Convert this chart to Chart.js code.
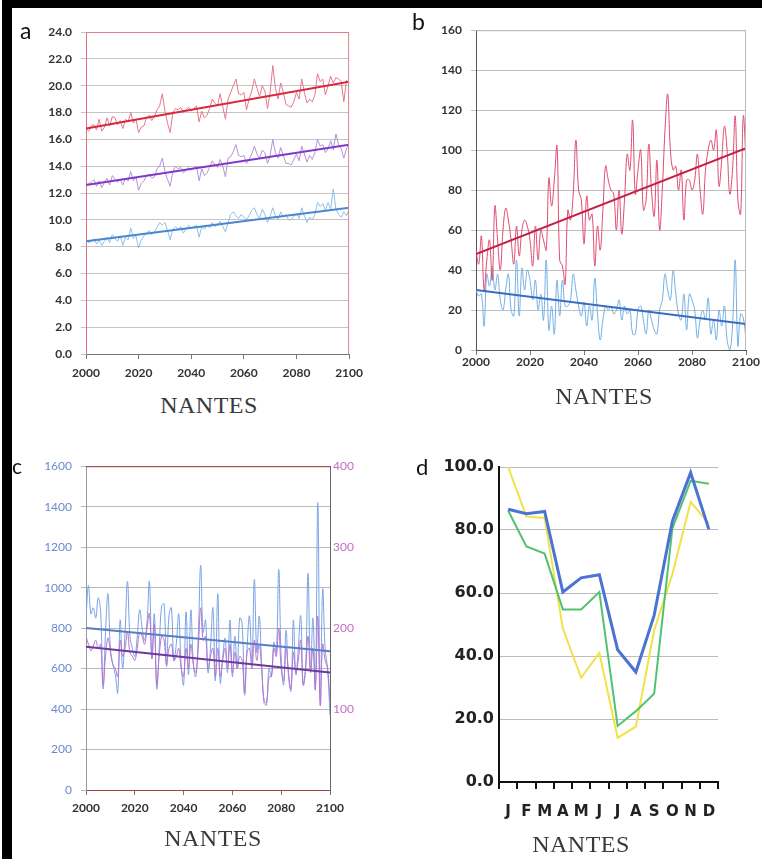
<!DOCTYPE html>
<html>
<head>
<meta charset="utf-8">
<script src="https://cdn.jsdelivr.net/npm/chart.js@4.4.1/dist/chart.umd.min.js"></script>
<style>
  body { margin: 0; background: #fff; width: 762px; height: 859px; position: relative; overflow: hidden; }
  canvas { position: absolute; }
  .bar { position: absolute; background: #000; }
  .letter { position: absolute; font-family: "Lato", sans-serif; color: #111; line-height: 1; }
  .city { position: absolute; width: 200px; text-align: center; font-family: "Liberation Serif", serif;
          font-size: 24px; line-height: 24px; color: #3a3a3a; letter-spacing: 0.5px; }
</style>
</head>
<body>
<div class="bar" style="left:2px;top:0;width:10px;height:859px"></div>
<div class="bar" style="left:2px;top:0;width:760px;height:8px"></div>

<canvas id="chartA" width="350" height="376" style="left:20px;top:14px"></canvas>
<canvas id="chartB" width="352" height="376" style="left:410px;top:14px"></canvas>
<canvas id="chartC" width="350" height="376" style="left:20px;top:450px"></canvas>
<canvas id="chartD" width="350" height="376" style="left:400px;top:450px"></canvas>

<div class="letter" style="left:20px;top:19px;font-size:23px">a</div>
<div class="letter" style="left:412px;top:10px;font-size:23px">b</div>
<div class="letter" style="left:12px;top:455px;font-size:21px">c</div>
<div class="letter" style="left:416px;top:456px;font-size:22px">d</div>

<div class="city" style="left:109px;top:393px">NANTES</div>
<div class="city" style="left:504px;top:384px">NANTES</div>
<div class="city" style="left:113px;top:826px">NANTES</div>
<div class="city" style="left:481px;top:832px">NANTES</div>

<script>
// years on the x axis of panels a, b, c
var years = [];
for (var yr = 2000; yr <= 2100; yr++) years.push(yr);

// a : temperatures (max, mean, min) and their trends
var tempMax = [
  16.8, 16.6, 17.0, 17.1, 16.7, 17.5, 16.6, 16.9, 17.6, 17.0,
  17.7, 17.6, 17.1, 17.4, 16.8, 17.5, 17.3, 18.0, 17.2, 17.5,
  16.5, 16.9, 17.0, 17.6, 17.8, 17.4, 17.7, 18.2, 18.5, 19.4,
  18.1, 17.2, 16.5, 18.0, 18.3, 18.2, 18.4, 18.0, 18.2, 18.4,
  18.1, 18.3, 18.5, 17.3, 18.1, 17.6, 17.8, 18.3, 19.0, 18.7,
  18.5, 19.4, 18.4, 17.5, 19.0, 19.5, 20.0, 20.5, 19.4, 19.3,
  19.5, 18.2, 19.0, 19.6, 20.5, 19.8, 19.2, 20.0, 19.6, 18.3,
  19.5, 21.5, 19.8, 19.0, 20.2, 19.5, 18.6, 18.5, 18.4, 18.8,
  19.5, 19.0, 20.5, 19.5, 18.7, 19.0, 18.8, 19.3, 20.9, 20.3,
  20.5, 19.3, 20.0, 20.7, 20.2, 20.6, 20.5, 20.3, 18.8, 20.4,
  20.2
];
var tempMean = [
  12.6, 12.7, 12.8, 13.0, 12.5, 12.9, 12.4, 12.8, 13.1, 12.6,
  13.3, 13.0, 12.8, 13.0, 12.6, 13.1, 12.9, 13.6, 12.9, 13.2,
  12.2, 12.7, 12.9, 13.3, 13.4, 13.1, 13.2, 13.8, 14.0, 14.6,
  13.6, 13.0, 12.5, 13.6, 14.0, 13.8, 13.9, 13.5, 13.7, 13.9,
  13.7, 13.9, 14.0, 12.9, 13.8, 13.3, 13.5, 13.9, 14.4, 14.1,
  13.9, 14.5, 14.0, 13.2, 14.6, 14.7, 15.1, 15.6, 14.8, 14.7,
  14.8, 14.2, 14.5, 14.9, 15.5, 14.9, 14.6, 15.2, 15.0, 14.2,
  14.8, 16.0, 15.0, 14.6, 15.4, 14.8, 14.2, 14.2, 14.1, 14.5,
  14.9, 14.4, 15.5, 14.9, 14.3, 14.8, 14.5, 15.0, 16.0, 15.5,
  15.6, 15.0, 15.3, 15.9, 15.2, 16.4, 15.6, 15.3, 14.6, 15.3,
  15.6
];
var tempMin = [
  8.5, 8.3, 8.4, 8.6, 8.2, 8.5, 8.1, 8.4, 8.7, 8.3,
  8.9, 8.6, 8.4, 8.8, 8.1, 8.7, 8.5, 9.4, 8.6, 8.8,
  7.9, 8.5, 8.8, 9.0, 9.2, 8.9, 9.1, 9.4, 9.8, 9.6,
  9.8, 9.2, 8.5, 9.3, 9.5, 9.3, 9.5, 9.0, 9.3, 9.6,
  9.4, 9.5, 9.6, 8.7, 9.5, 9.3, 9.6, 9.4, 9.8, 9.5,
  9.6, 9.9, 9.5, 9.1, 9.8, 10.4, 10.6, 10.3, 10.1, 10.4,
  10.2, 10.0, 10.3, 10.7, 10.9, 10.4, 10.1, 10.8, 10.4, 9.8,
  10.3, 10.9, 10.3, 10.0, 10.6, 10.2, 10.4, 10.0, 10.0, 10.3,
  10.5, 10.1, 10.9, 10.3, 9.8, 10.2, 10.0, 10.4, 11.3, 11.0,
  11.2, 10.7, 11.3, 10.8, 12.3, 10.8, 10.4, 10.2, 10.6, 10.3,
  10.8
];
var trendMax = [16.8, 20.3];
var trendMean = [12.6, 15.6];
var trendMin = [8.4, 10.9];

// b : day counts, warm (red) and cold (blue)
var daysWarm = [
  50, 43, 57, 30, 45, 55, 35, 72, 55, 40,
  60, 71, 65, 55, 43, 62, 47, 60, 65, 62,
  55, 42, 62, 45, 60, 55, 50, 86, 72, 85,
  102, 45, 42, 33, 70, 65, 78, 105, 80, 75,
  53, 77, 65, 68, 42, 62, 50, 70, 92, 85,
  80, 78, 60, 80, 58, 75, 98, 90, 115, 78,
  90, 100, 70, 75, 103, 80, 67, 95, 60, 80,
  110, 128, 100, 90, 92, 80, 90, 65, 85, 85,
  80, 85, 98, 80, 68, 90, 100, 105, 100, 110,
  82, 95, 112, 100, 78, 90, 117, 75, 68, 117,
  95
];
var daysCold = [
  30, 27, 28, 12, 38, 32, 42, 30, 38, 25,
  20, 30, 38, 20, 17, 45, 17, 41, 30, 40,
  35, 25, 35, 20, 28, 15, 45, 10, 22, 8,
  35, 17, 35, 22, 22, 25, 38, 30, 22, 17,
  24, 12, 22, 15, 36, 18, 5, 15, 22, 20,
  22, 18, 20, 25, 15, 22, 18, 20, 8, 8,
  20, 22, 15, 8, 20, 15, 10, 8, 20, 25,
  38, 30, 25, 40, 28, 18, 15, 28, 10, 28,
  25, 20, 6, 15, 20, 15, 26, 8, 15, 5,
  20, 12, 22, 5, 0, 12, 45, 2, 18, 16,
  5
];
var trendWarm = [48, 101];
var trendCold = [30, 13];

// c : rainfall (left axis, blue) and second index (right axis, purple)
var rainTotal = [
  850, 1010, 870, 900, 850, 950, 880, 500, 780, 970,
  700, 620, 570, 480, 840, 600, 780, 1030, 760, 700,
  660, 760, 890, 800, 740, 830, 1030, 650, 870, 500,
  700, 910, 920, 610, 860, 900, 640, 720, 870, 620,
  520, 880, 570, 890, 620, 560, 760, 1110, 780, 840,
  580, 700, 900, 540, 970, 530, 650, 750, 580, 840,
  560, 760, 600, 850, 820, 470, 700, 860, 620, 1040,
  680, 860, 620, 430, 420, 600, 560, 730, 680, 1090,
  650, 520, 790, 560, 490, 840, 570, 700, 860, 520,
  600, 1070, 590, 850, 500, 1420, 420, 990, 700, 600,
  370
];
var rainIndex = [
  190, 180, 172, 178, 185, 175, 180, 130, 165, 188,
  170, 155, 150, 140, 185, 165, 175, 195, 170, 165,
  160, 175, 195, 190, 180, 200, 218, 162, 205, 130,
  165, 190, 185, 155, 175, 180, 160, 165, 175, 150,
  140, 175, 150, 180, 155, 145, 175, 225, 185, 190,
  150, 165, 175, 140, 175, 140, 160, 175, 150, 180,
  145, 170, 150, 165, 160, 120, 170, 175, 150, 185,
  160, 180, 150, 110, 108, 140, 140, 175, 165, 200,
  150, 135, 175, 145, 125, 170, 145, 160, 185, 130,
  150, 190, 145, 175, 125, 215, 105, 180, 160, 150,
  110
];
var trendRain = [800, 685];
var trendIndex = [177, 145];

// d : monthly values, three periods
var months = ["J", "F", "M", "A", "M", "J", "J", "A", "S", "O", "N", "D"];
var monthBlue = [86.6, 85.2, 85.9, 60.3, 64.8, 65.8, 42.0, 34.9, 52.9, 82.8, 98.2, 80.2];
var monthGreen = [86.2, 74.8, 72.5, 54.8, 54.8, 60.3, 17.8, 22.5, 28.0, 80.5, 95.6, 94.7];
var monthYellow = [100.0, 84.3, 83.8, 48.7, 33.1, 41.0, 14.0, 17.6, 48.1, 66.0, 88.9, 82.0];

function series(values) {
    return values.map(function(v, i) { return {x: years[i], y: v}; });
}
function trend(ends) {
    return [{x: 2000, y: ends[0]}, {x: 2100, y: ends[1]}];
}
function noisy(values, color, smooth, axis) {
    var ds = {data: series(values), borderColor: color, borderWidth: 1, pointRadius: 0, tension: smooth ? 0.4 : 0};
    if (axis) ds.yAxisID = axis;
    return ds;
}
function straight(ends, color, axis) {
    var ds = {data: trend(ends), borderColor: color, borderWidth: 2, pointRadius: 0};
    if (axis) ds.yAxisID = axis;
    return ds;
}

// thin frame around the plot area, one colour per side
var framePlugin = {
    id: "frame",
    afterDraw: function(chart, args, opts) {
        var a = chart.chartArea, ctx = chart.ctx;
        ctx.save();
        ctx.lineWidth = 1;
        function side(color, x1, y1, x2, y2) {
            if (!color) return;
            ctx.strokeStyle = color;
            ctx.beginPath(); ctx.moveTo(x1, y1); ctx.lineTo(x2, y2); ctx.stroke();
        }
        side(opts.top, a.left, a.top + 0.5, a.right, a.top + 0.5);
        side(opts.right, a.right - 0.5, a.top, a.right - 0.5, a.bottom);
        ctx.restore();
    }
};

Chart.defaults.font.family = "Lato, 'Open Sans', sans-serif";
Chart.defaults.color = "#333";
Chart.defaults.animation = false;
Chart.defaults.plugins.legend.display = false;
Chart.defaults.plugins.tooltip.enabled = false;

function plain(v) { return String(v); }

function yearAxis(height, pad, borderColor, font) {
    return {
        type: "linear", min: 2000, max: 2100,
        afterFit: function(s) { s.height = height; },
        ticks: {stepSize: 20, padding: pad, maxRotation: 0, autoSkip: false, font: font, callback: plain},
        grid: {drawOnChartArea: false, tickLength: 5, color: "#777"},
        border: {color: borderColor, width: 1}
    };
}

var tickFont = {size: 12, weight: "bold"};

new Chart(document.getElementById("chartA"), {
    type: "line",
    data: {datasets: [
        straight(trendMax, "#d8283e"),
        straight(trendMean, "#8038c8"),
        straight(trendMin, "#4a86d0"),
        noisy(tempMax, "#e6788c"),
        noisy(tempMean, "#b592d8"),
        noisy(tempMin, "#8cc0e8")
    ]},
    options: {
        responsive: false,
        layout: {padding: {top: 18, right: 13, left: 0, bottom: 0}},
        scales: {
            x: yearAxis(36, 7, "#777", tickFont),
            y: {
                min: 0, max: 24,
                afterFit: function(s) { s.width = 66; },
                ticks: {stepSize: 2, padding: 9, font: tickFont, callback: function(v) { return v.toFixed(1); }},
                grid: {color: "#c4c4c4", tickLength: 5},
                border: {color: "#e0707f", width: 1}
            }
        },
        plugins: {frame: {top: "#e0808e", right: "#e0808e"}}
    },
    plugins: [framePlugin]
});

new Chart(document.getElementById("chartB"), {
    type: "line",
    data: {datasets: [
        straight(trendWarm, "#c42048"),
        straight(trendCold, "#3a6cc0"),
        noisy(daysWarm, "#e04c72", true),
        noisy(daysCold, "#74b0e4", true)
    ]},
    options: {
        responsive: false,
        layout: {padding: {top: 14, right: 16, left: 0, bottom: 0}},
        scales: {
            x: yearAxis(40, 0, "#555", tickFont),
            y: {
                min: 0, max: 160,
                afterFit: function(s) { s.width = 66; },
                ticks: {stepSize: 20, padding: 9, font: tickFont},
                grid: {color: "#c0c0c0", tickLength: 5},
                border: {color: "#555", width: 1}
            }
        },
        plugins: {frame: {top: "#bbb", right: "#bbb"}}
    },
    plugins: [framePlugin]
});

new Chart(document.getElementById("chartC"), {
    type: "line",
    data: {datasets: [
        straight(trendRain, "#5a7cc4", "y"),
        straight(trendIndex, "#6a38a0", "y2"),
        noisy(rainIndex, "#b874cc", true, "y2"),
        noisy(rainTotal, "#7aa2e6", true, "y")
    ]},
    options: {
        responsive: false,
        layout: {padding: {top: 13, right: 10, left: 0, bottom: 0}},
        scales: {
            x: yearAxis(36, 6, "#a04040", tickFont),
            y: {
                min: 0, max: 1600, position: "left",
                afterFit: function(s) { s.width = 66; },
                ticks: {stepSize: 200, padding: 9, color: "#6a8ad0", font: {size: 12}, callback: plain},
                grid: {color: "#b8b8b8", tickLength: 5},
                border: {color: "#999", width: 1}
            },
            y2: {
                min: 0, max: 400, position: "right",
                afterFit: function(s) { s.width = 30; },
                ticks: {stepSize: 100, padding: 3, color: "#c070c8", font: {size: 12},
                        callback: function(v) { return v === 0 ? "" : String(v); }},
                grid: {drawOnChartArea: false, drawTicks: false},
                border: {color: "#666", width: 1}
            }
        },
        plugins: {frame: {top: "#a03838"}}
    },
    plugins: [framePlugin]
});

new Chart(document.getElementById("chartD"), {
    type: "line",
    data: {
        labels: months,
        datasets: [
            {data: monthBlue, borderColor: "#4a74d4", borderWidth: 3, pointRadius: 0},
            {data: monthGreen, borderColor: "#52c272", borderWidth: 2, pointRadius: 0},
            {data: monthYellow, borderColor: "#f2e24a", borderWidth: 2, pointRadius: 0}
        ]
    },
    options: {
        responsive: false,
        layout: {padding: {top: 17, right: 32, left: 0, bottom: 0}},
        scales: {
            x: {
                offset: true,
                afterFit: function(s) { s.height = 44; },
                ticks: {padding: 14, maxRotation: 0, autoSkip: false, color: "#222",
                        font: {family: "'DejaVu Sans'", size: 15, weight: "bold"}},
                grid: {offset: true, drawOnChartArea: false, tickLength: 7, color: "#111", lineWidth: 2},
                border: {color: "#111", width: 2}
            },
            y: {
                min: 0, max: 100,
                afterFit: function(s) { s.width = 99; },
                ticks: {stepSize: 20, padding: 5, color: "#222",
                        font: {family: "'DejaVu Sans'", size: 16, weight: "bold"},
                        callback: function(v) { return v.toFixed(1); }},
                grid: {color: "#bdbdbd", drawTicks: false},
                border: {color: "#111", width: 2}
            }
        }
    }
});
</script>
</body>
</html>
